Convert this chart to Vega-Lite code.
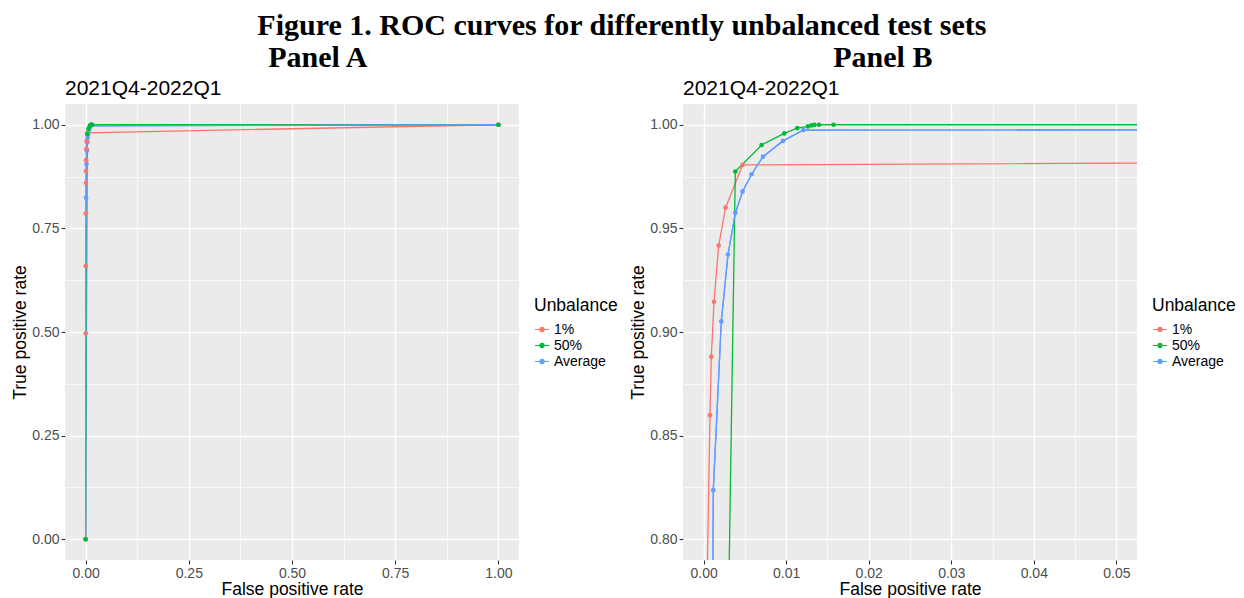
{
  "$schema": "https://vega.github.io/schema/vega-lite/v6.json",
  "background": "white",
  "padding": {"left": 11, "top": 11, "right": 5, "bottom": 5},
  "title": {"text": "Figure 1. ROC curves for differently unbalanced test sets", "font": "Liberation Serif", "fontSize": 30, "fontWeight": "bold", "color": "black", "anchor": "middle", "offset": 2, "dx": -2},
  "datasets": {
    "roc": [
      {"fpr": 0, "tpr": 0, "grp": "Average"},
      {"fpr": 0.00117, "tpr": 0.8237, "grp": "Average"},
      {"fpr": 0.00214, "tpr": 0.9051, "grp": "Average"},
      {"fpr": 0.00295, "tpr": 0.9374, "grp": "Average"},
      {"fpr": 0.00384, "tpr": 0.9574, "grp": "Average"},
      {"fpr": 0.00472, "tpr": 0.9678, "grp": "Average"},
      {"fpr": 0.00581, "tpr": 0.9761, "grp": "Average"},
      {"fpr": 0.00719, "tpr": 0.9846, "grp": "Average"},
      {"fpr": 0.00961, "tpr": 0.9922, "grp": "Average"},
      {"fpr": 0.01207, "tpr": 0.9974, "grp": "Average"},
      {"fpr": 1, "tpr": 1, "grp": "Average"},
      {"fpr": 0, "tpr": 0, "grp": "1%"},
      {"fpr": 0.0002, "tpr": 0.497, "grp": "1%"},
      {"fpr": 0.0003, "tpr": 0.659, "grp": "1%"},
      {"fpr": 0.00045, "tpr": 0.786, "grp": "1%"},
      {"fpr": 0.00077, "tpr": 0.8598, "grp": "1%"},
      {"fpr": 0.00093, "tpr": 0.8881, "grp": "1%"},
      {"fpr": 0.00126, "tpr": 0.9146, "grp": "1%"},
      {"fpr": 0.00182, "tpr": 0.9417, "grp": "1%"},
      {"fpr": 0.00266, "tpr": 0.960, "grp": "1%"},
      {"fpr": 0.00472, "tpr": 0.9806, "grp": "1%"},
      {"fpr": 1, "tpr": 1, "grp": "1%"},
      {"fpr": 0, "tpr": 0, "grp": "50%"},
      {"fpr": 0.00384, "tpr": 0.9774, "grp": "50%"},
      {"fpr": 0.00702, "tpr": 0.9902, "grp": "50%"},
      {"fpr": 0.00977, "tpr": 0.9958, "grp": "50%"},
      {"fpr": 0.01134, "tpr": 0.9984, "grp": "50%"},
      {"fpr": 0.01264, "tpr": 0.9992, "grp": "50%"},
      {"fpr": 0.01308, "tpr": 0.9997, "grp": "50%"},
      {"fpr": 0.0134, "tpr": 0.9999, "grp": "50%"},
      {"fpr": 0.01397, "tpr": 1.0, "grp": "50%"},
      {"fpr": 0.01574, "tpr": 1.0, "grp": "50%"},
      {"fpr": 1, "tpr": 1, "grp": "50%"}
    ]
  },
  "config": {
    "font": "Liberation Sans",
    "view": {"fill": "#EBEBEB", "stroke": null},
    "axis": {"domain": false, "tickColor": "#333333", "tickSize": 4, "tickWidth": 1.1, "labelColor": "#4D4D4D", "labelFont": "Liberation Sans", "labelFontSize": 14, "labelPadding": 2, "titleFont": "Liberation Sans", "titleFontSize": 17.5, "titleFontWeight": "normal", "titleColor": "black", "gridColor": "white"},
    "axisX": {"titlePadding": 0},
    "axisY": {"titlePadding": 2},
    "legend": {"titleFont": "Liberation Sans", "titleFontSize": 17.5, "titleFontWeight": "normal", "titleColor": "black", "labelFont": "Liberation Sans", "labelFontSize": 14, "labelColor": "black", "padding": 0, "rowPadding": 1, "titlePadding": 7}
  },
  "spacing": 11,
  "resolve": {"scale": {"color": "independent"}, "legend": {"color": "independent"}},
  "hconcat": [
    {
      "title": {"text": "Panel A", "font": "Liberation Serif", "fontSize": 30, "fontWeight": "bold", "color": "black", "anchor": "middle", "offset": 5, "dx": 3},
      "resolve": {"scale": {"color": "independent"}, "legend": {"color": "independent"}},
      "vconcat": [
        {
          "width": 454, "height": 456,
          "title": {"text": "2021Q4-2022Q1", "font": "Liberation Sans", "fontSize": 21, "fontWeight": "normal", "color": "black", "anchor": "start", "frame": "group", "offset": 5},
          "data": {"name": "roc"},
          "encoding": {
            "x": {"field": "fpr", "type": "quantitative", "title": "False positive rate",
              "scale": {"domain": [-0.05, 1.05], "nice": false, "zero": false},
              "axis": {"values": [0, 0.125, 0.25, 0.375, 0.5, 0.625, 0.75, 0.875, 1], "labelExpr": "abs(datum.value*4 - round(datum.value*4)) < 0.001 ? format(datum.value, '.2f') : ''",
                "gridWidth": {"condition": {"test": "abs(datum.value*4 - round(datum.value*4)) < 0.001", "value": 1.4}, "value": 0.7},
                "tickOpacity": {"condition": {"test": "abs(datum.value*4 - round(datum.value*4)) < 0.001", "value": 1}, "value": 0}}},
            "y": {"field": "tpr", "type": "quantitative", "title": "True positive rate",
              "scale": {"domain": [-0.05, 1.05], "nice": false, "zero": false},
              "axis": {"values": [0, 0.125, 0.25, 0.375, 0.5, 0.625, 0.75, 0.875, 1], "labelExpr": "abs(datum.value*4 - round(datum.value*4)) < 0.001 ? format(datum.value, '.2f') : ''",
                "gridWidth": {"condition": {"test": "abs(datum.value*4 - round(datum.value*4)) < 0.001", "value": 1.4}, "value": 0.7},
                "tickOpacity": {"condition": {"test": "abs(datum.value*4 - round(datum.value*4)) < 0.001", "value": 1}, "value": 0}}},
            "color": {"field": "grp", "type": "nominal", "title": "Unbalance",
              "scale": {"domain": ["1%", "50%", "Average"], "range": ["#F8766D", "#00BA38", "#619CFF"]},
              "legend": {"orient": "none", "legendX": 469, "legendY": 193, "symbolType": "M-1,0H1M0.3,0A0.3,0.3,0,1,1,-0.3,0A0.3,0.3,0,1,1,0.3,0Z", "symbolSize": 200, "symbolStrokeWidth": 1.2}}
          },
          "layer": [
            {"mark": {"type": "line", "strokeWidth": 1.3}},
            {"transform": [{"filter": "datum.grp === 'Average'"}], "mark": {"type": "line", "strokeWidth": 1.3}},
            {"mark": {"type": "point", "filled": true, "size": 22, "opacity": 1}}
          ]
        }
      ]
    },
    {
      "title": {"text": "Panel B", "font": "Liberation Serif", "fontSize": 30, "fontWeight": "bold", "color": "black", "anchor": "middle", "offset": 5, "dx": -50},
      "resolve": {"scale": {"color": "independent"}, "legend": {"color": "independent"}},
      "vconcat": [
        {
          "width": 454, "height": 456,
          "title": {"text": "2021Q4-2022Q1", "font": "Liberation Sans", "fontSize": 21, "fontWeight": "normal", "color": "black", "anchor": "start", "frame": "group", "offset": 5},
          "data": {"name": "roc"},
          "encoding": {
            "x": {"field": "fpr", "type": "quantitative", "title": "False positive rate",
              "scale": {"domain": [-0.0025, 0.0525], "nice": false, "zero": false},
              "axis": {"values": [0, 0.005, 0.01, 0.015, 0.02, 0.025, 0.03, 0.035, 0.04, 0.045, 0.05], "labelExpr": "abs(datum.value*100 - round(datum.value*100)) < 0.001 ? format(datum.value, '.2f') : ''",
                "gridWidth": {"condition": {"test": "abs(datum.value*100 - round(datum.value*100)) < 0.001", "value": 1.4}, "value": 0.7},
                "tickOpacity": {"condition": {"test": "abs(datum.value*100 - round(datum.value*100)) < 0.001", "value": 1}, "value": 0}}},
            "y": {"field": "tpr", "type": "quantitative", "title": "True positive rate",
              "scale": {"domain": [0.79, 1.01], "nice": false, "zero": false},
              "axis": {"values": [0.8, 0.825, 0.85, 0.875, 0.9, 0.925, 0.95, 0.975, 1], "labelExpr": "abs(datum.value*20 - round(datum.value*20)) < 0.001 ? format(datum.value, '.2f') : ''",
                "gridWidth": {"condition": {"test": "abs(datum.value*20 - round(datum.value*20)) < 0.001", "value": 1.4}, "value": 0.7},
                "tickOpacity": {"condition": {"test": "abs(datum.value*20 - round(datum.value*20)) < 0.001", "value": 1}, "value": 0}}},
            "color": {"field": "grp", "type": "nominal", "title": "Unbalance",
              "scale": {"domain": ["1%", "50%", "Average"], "range": ["#F8766D", "#00BA38", "#619CFF"]},
              "legend": {"orient": "none", "legendX": 469, "legendY": 193, "symbolType": "M-1,0H1M0.3,0A0.3,0.3,0,1,1,-0.3,0A0.3,0.3,0,1,1,0.3,0Z", "symbolSize": 200, "symbolStrokeWidth": 1.2}}
          },
          "layer": [
            {"mark": {"type": "line", "strokeWidth": 1.3, "clip": true}},
            {"transform": [{"filter": "datum.grp === 'Average'"}], "mark": {"type": "line", "strokeWidth": 1.3, "clip": true}},
            {"mark": {"type": "point", "filled": true, "size": 22, "opacity": 1, "clip": true}}
          ]
        }
      ]
    }
  ]
}
